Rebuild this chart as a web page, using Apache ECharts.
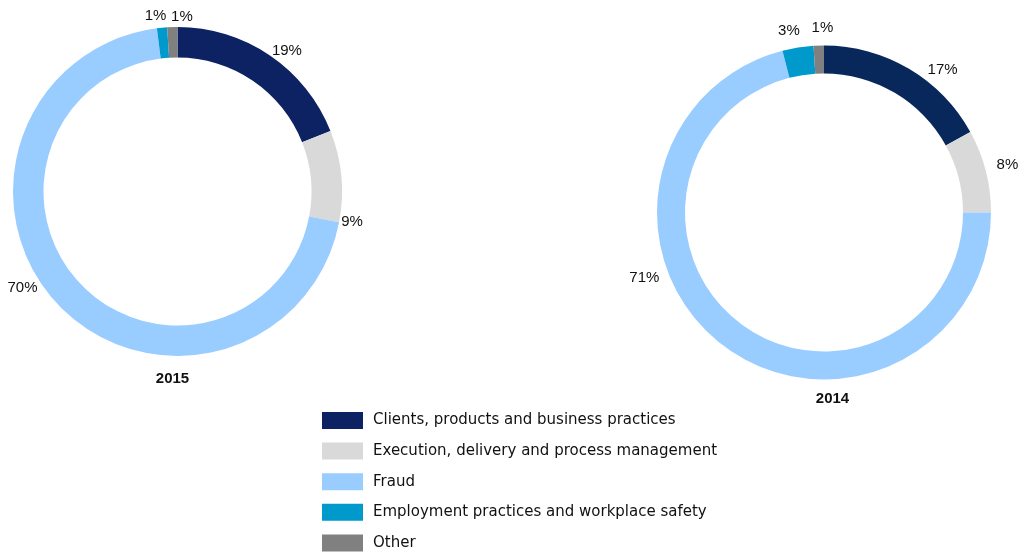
<!DOCTYPE html>
<html>
<head>
<meta charset="utf-8">
<script src="https://cdn.jsdelivr.net/npm/echarts@6/dist/echarts.min.js"></script>
<style>html,body{margin:0;padding:0;background:#fff}#c{width:1024px;height:557px}</style>
</head>
<body>
<div id="c"></div>
<script>
const categories = [
  'Clients, products and business practices',
  'Execution, delivery and process management',
  'Fraud',
  'Employment practices and workplace safety',
  'Other'
];
const values2015 = [19, 9, 70, 1, 1];
const values2014 = [17, 8, 71, 3, 1];
const years = ['2015', '2014'];
const colors = ['#0c2262', '#d9d9d9', '#99ccff', '#0099cc', '#808080'];
const colors2014 = ['#08285c', '#d9d9d9', '#99ccff', '#0099cc', '#808080'];

// label nudges (styling only), per series, per slice: [dx, dy]
const labelNudge = [
  [[-2, 1], [-7, 46], [-15, -21], [5, -5], [0, 0]],
  [[15, 7], [4, -4], [-58, -72], [3, -10], [0, 0]]
];
const labelAlign = [
  [null, null, null, null, 'left'],
  [null, null, null, null, 'left']
];
const otherNudge = [[-1, -3], [-7, -11]];

const FONT = '"Liberation Sans", Arial, Helvetica, sans-serif';
const LEGEND_FONT = '"DejaVu Sans", Verdana, sans-serif';

function makeLayout(s) {
  return function (p) {
    const n = labelNudge[s][p.dataIndex];
    const r = { dx: n[0], dy: n[1] };
    if (labelAlign[s][p.dataIndex]) {
      r.align = labelAlign[s][p.dataIndex];
      r.x = p.labelRect.x + p.labelRect.width + otherNudge[s][0];
      r.y = p.labelRect.y + p.labelRect.height / 2 + otherNudge[s][1];
      r.dx = 0;
      r.dy = 0;
    }
    return r;
  };
}

function pieSeries(vals, center, radius, s, palette) {
  return {
    type: 'pie',
    center: center,
    radius: radius,
    startAngle: 90,
    clockwise: true,
    avoidLabelOverlap: false,
    silent: true,
    animation: false,
    itemStyle: { borderWidth: 0 },
    label: {
      show: true,
      position: 'outside',
      formatter: '{c}%',
      fontFamily: FONT,
      fontSize: 15,
      color: '#111',
      distanceToLabelLine: 0
    },
    labelLine: { show: false, length: 7, length2: 0 },
    labelLayout: makeLayout(s),
    data: vals.map((v, i) => ({ name: categories[i], value: v, itemStyle: { color: palette[i] } }))
  };
}

const chart = echarts.init(document.getElementById('c'), null, { renderer: 'canvas' });
chart.setOption({
  backgroundColor: '#fff',
  color: colors,
  animation: false,
  title: [
    { text: years[0], left: 172.5, top: 371, textAlign: 'center', padding: 0,
      textStyle: { fontFamily: FONT, fontSize: 15, fontWeight: 'bold', color: '#111' } },
    { text: years[1], left: 832.5, top: 391, textAlign: 'center', padding: 0,
      textStyle: { fontFamily: FONT, fontSize: 15, fontWeight: 'bold', color: '#111' } }
  ],
  legend: {
    orient: 'vertical',
    left: 322,
    top: 412,
    padding: 0,
    itemWidth: 41,
    itemHeight: 17,
    itemGap: 13.6,
    icon: 'rect',
    selectedMode: false,
    textStyle: { fontFamily: LEGEND_FONT, fontSize: 15, color: '#111', padding: [0, 0, 0, 5] },
    data: categories
  },
  series: [
    pieSeries(values2015, [177.5, 191.5], [134, 164.5], 0, colors),
    pieSeries(values2014, [824, 212.5], [139, 167], 1, colors2014)
  ]
});
</script>
</body>
</html>
